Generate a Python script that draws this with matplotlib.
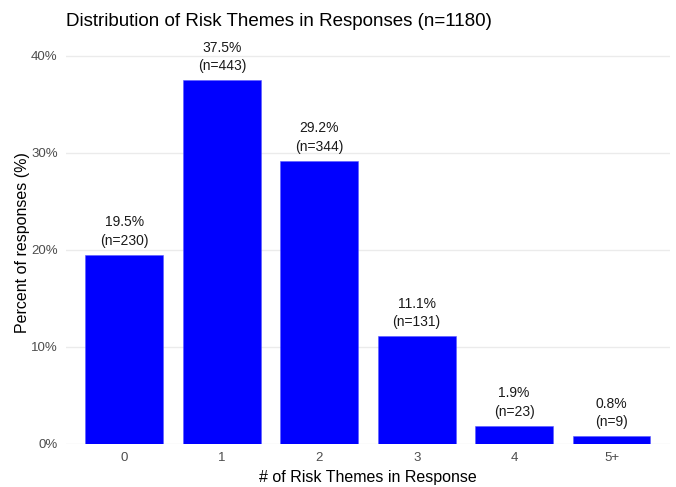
import matplotlib
matplotlib.use("Agg")
import matplotlib.pyplot as plt
from matplotlib.ticker import FuncFormatter

categories = ["0", "1", "2", "3", "4", "5+"]
counts = [230, 443, 344, 131, 23, 9]
percents = [19.5, 37.5, 29.2, 11.1, 1.9, 0.8]
total_n = 1180

plt.rcParams["font.family"] = ["Liberation Sans", "DejaVu Sans"]

fig = plt.figure(figsize=(6.76, 4.87), dpi=100)
ax = fig.add_axes([0.0976, 0.0883, 0.8934, 0.827])

x = range(len(categories))
ax.bar(x, percents, width=0.8, color="#0000FF", edgecolor="#5a5aff", linewidth=0.4, zorder=2)

for xi, p, n in zip(x, percents, counts):
    ax.annotate(f"{p:.1f}%\n(n={n})", (xi, p), xytext=(0, 5), textcoords="offset points",
                ha="center", va="bottom", fontsize=10, color="#1a1a1a", linespacing=1.4)

ax.set_xlim(-0.6, len(categories) - 0.4)
ax.set_ylim(0, 41.5)
ax.set_xticks(list(x))
ax.set_xticklabels(categories)
ax.set_yticks([0, 10, 20, 30, 40])
ax.yaxis.set_major_formatter(FuncFormatter(lambda v, _: f"{v:.0f}%"))

ax.grid(axis="y", color="#ebebeb", linewidth=1.0, zorder=0)
ax.tick_params(length=0, labelsize=9.5, colors="#4d4d4d", pad=6)
for s in ax.spines.values():
    s.set_visible(False)

ax.set_xlabel("# of Risk Themes in Response", fontsize=11.5, color="black", labelpad=4)
ax.set_ylabel("Percent of responses (%)", fontsize=11.5, color="black", labelpad=1)
ax.set_title(f"Distribution of Risk Themes in Responses (n={total_n})", fontsize=13.5,
             loc="left", pad=11, color="black")

fig.savefig("out.png", dpi=100)
